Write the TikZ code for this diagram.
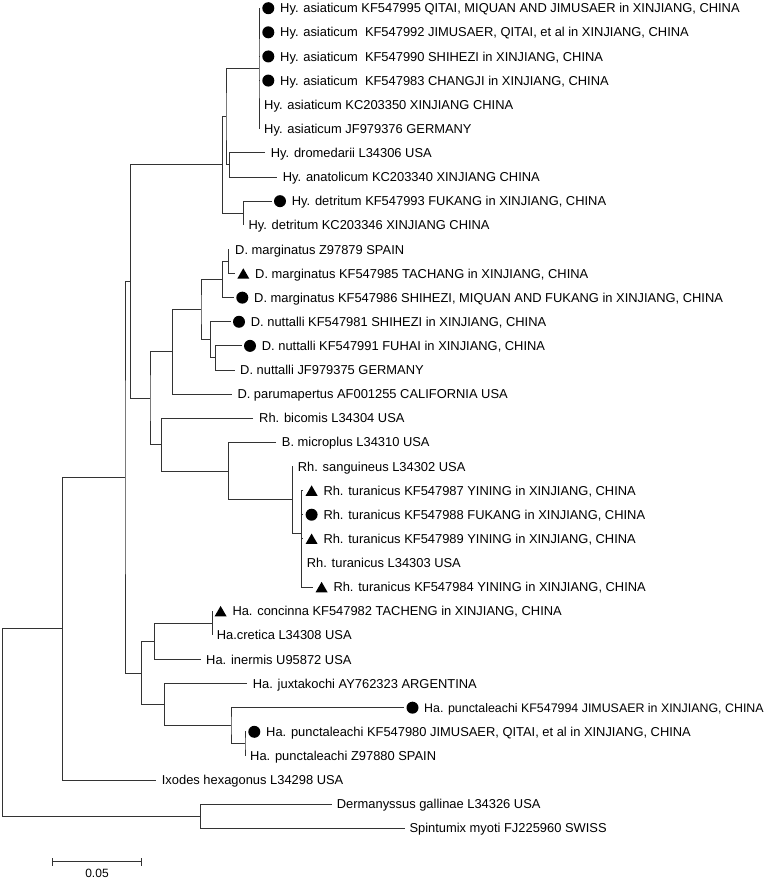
\documentclass[tikz,border=0pt]{standalone}
\usepackage{fontspec}
\setmainfont{Liberation Sans}
\usetikzlibrary{shapes.geometric}
\tikzset{
  br/.style={draw=black!80, line width=1pt},
  lbl/.style={anchor=west, inner sep=0pt, text height=9.2pt, text depth=0pt, font=\fontsize{12.9}{15}\selectfont},
  dot/.style={circle, fill=black, inner sep=0pt, minimum size=12pt},
  tri/.style={regular polygon, regular polygon sides=3, fill=black, inner sep=0pt, minimum size=13.9pt},
}
\begin{document}
\begin{tikzpicture}[x=1pt,y=-1pt]
\useasboundingbox (0,0) rectangle (778,879);
% ---------- leaf labels ----------
\node[lbl] (t1)  at (280,8.2)    {Hy. asiaticum KF547995 QITAI, MIQUAN AND JIMUSAER in XINJIANG, CHINA};
\node[lbl] (t2)  at (280,32.32)  {Hy. asiaticum\ \ KF547992 JIMUSAER, QITAI, et al in XINJIANG, CHINA};
\node[lbl] (t3)  at (280,56.44)  {Hy. asiaticum\ \ KF547990 SHIHEZI in XINJIANG, CHINA};
\node[lbl] (t4)  at (280,80.56)  {Hy. asiaticum\ \ KF547983 CHANGJI in XINJIANG, CHINA};
\node[lbl] (t5)  at (264,104.68) {Hy. asiaticum KC203350 XINJIANG CHINA};
\node[lbl] (t6)  at (264,128.8)  {Hy. asiaticum JF979376 GERMANY};
\node[lbl] (t7)  at (270.7,152.92) {Hy. dromedarii L34306 USA};
\node[lbl] (t8)  at (282.7,177.04) {Hy. anatolicum KC203340 XINJIANG CHINA};
\node[lbl] (t9)  at (291.7,201.16) {Hy. detritum KF547993 FUKANG in XINJIANG, CHINA};
\node[lbl] (t10) at (248.3,225.28) {Hy. detritum KC203346 XINJIANG CHINA};
\node[lbl] (t11) at (235,249.4)  {D. marginatus Z97879 SPAIN};
\node[lbl] (t12) at (255,273.52) {D. marginatus KF547985 TACHANG in XINJIANG, CHINA};
\node[lbl] (t13) at (254,297.64) {D. marginatus KF547986 SHIHEZI, MIQUAN AND FUKANG in XINJIANG, CHINA};
\node[lbl] (t14) at (250.7,321.76) {D. nuttalli KF547981 SHIHEZI in XINJIANG, CHINA};
\node[lbl] (t15) at (261.7,345.88) {D. nuttalli KF547991 FUHAI in XINJIANG, CHINA};
\node[lbl] (t16) at (240,370.0) {D. nuttalli JF979375 GERMANY};
\node[lbl] (t17) at (237.3,394.12) {D. parumapertus AF001255 CALIFORNIA USA};
\node[lbl] (t18) at (259,418.24) {Rh. bicomis L34304 USA};
\node[lbl] (t19) at (281.7,442.36) {B. microplus L34310 USA};
\node[lbl] (t20) at (297.7,466.48) {Rh. sanguineus L34302 USA};
\node[lbl] (t21) at (323.3,490.6) {Rh. turanicus KF547987 YINING in XINJIANG, CHINA};
\node[lbl] (t22) at (323.3,514.72) {Rh. turanicus KF547988 FUKANG in XINJIANG, CHINA};
\node[lbl] (t23) at (323.3,538.84) {Rh. turanicus KF547989 YINING in XINJIANG, CHINA};
\node[lbl] (t24) at (306.7,562.96) {Rh. turanicus L34303 USA};
\node[lbl] (t25) at (333.3,587.08) {Rh. turanicus KF547984 YINING in XINJIANG, CHINA};
\node[lbl] (t26) at (232.3,611.2) {Ha. concinna KF547982 TACHENG in XINJIANG, CHINA};
\node[lbl] (t27) at (216.7,635.32) {Ha.cretica L34308 USA};
\node[lbl] (t28) at (206,659.44) {Ha. inermis U95872 USA};
\node[lbl] (t29) at (252.7,683.56) {Ha. juxtakochi AY762323 ARGENTINA};
\node[lbl, font=\fontsize{12.4}{15}\selectfont] (t30) at (424,707.68) {Ha. punctaleachi KF547994 JIMUSAER in XINJIANG, CHINA};
\node[lbl] (t31) at (266,731.8) {Ha. punctaleachi KF547980 JIMUSAER, QITAI, et al in XINJIANG, CHINA};
\node[lbl] (t32) at (250,755.92) {Ha. punctaleachi Z97880 SPAIN};
\node[lbl] (t33) at (161.7,780.04) {Ixodes hexagonus L34298 USA};
\node[lbl] (t34) at (336.7,804.16) {Dermanyssus gallinae L34326 USA};
\node[lbl] (t35) at (409.3,828.28) {Spintumix myoti FJ225960 SWISS};
% ---------- markers ----------
\node[dot] (m1)  at (268.3,8.2) {};
\node[dot] (m2)  at (268.3,32.32) {};
\node[dot] (m3)  at (268.3,56.44) {};
\node[dot] (m4)  at (268.3,80.56) {};
\node[dot] (m9)  at (280,201.16) {};
\node[tri] (m12) at (243.3,275.2) {};
\node[dot] (m13) at (242.3,297.64) {};
\node[dot] (m14) at (239,321.76) {};
\node[dot] (m15) at (250,345.88) {};
\node[tri] (m21) at (311.6,492.3) {};
\node[dot] (m22) at (311.6,514.72) {};
\node[tri] (m23) at (311.6,540.5) {};
\node[tri] (m25) at (321.6,588.8) {};
\node[tri] (m26) at (220.6,612.9) {};
\node[dot] (m30) at (412.5,707.68) {};
\node[dot] (m31) at (254.3,731.8) {};
% ---------- branch tips ----------
\coordinate (e1)  at (260,8.2);
\coordinate (e2)  at (260,32.32);
\coordinate (e3)  at (260,56.44);
\coordinate (e4)  at (260,80.56);
\coordinate (e5)  at (259,104.68);
\coordinate (e6)  at (259,128.8);
\coordinate (e7)  at (265.2,152.92);
\coordinate (e8)  at (277.2,177.04);
\coordinate (e9)  at (271.7,201.16);
\coordinate (e10) at (243.3,225.28);
\coordinate (e11) at (228.3,249.4);
\coordinate (e12) at (235,273.52);
\coordinate (e13) at (234,297.64);
\coordinate (e14) at (230.7,321.76);
\coordinate (e15) at (241.7,345.88);
\coordinate (e16) at (234.5,370.0);
\coordinate (e17) at (231.8,394.12);
\coordinate (e18) at (253,418.24);
\coordinate (e19) at (276.2,442.36);
\coordinate (e20) at (292.7,466.48);
\coordinate (e21) at (303.3,490.6);
\coordinate (e22) at (303.3,514.72);
\coordinate (e23) at (303.3,538.84);
\coordinate (e24) at (301.7,562.96);
\coordinate (e25) at (313.3,587.08);
\coordinate (e26) at (212.3,611.2);
\coordinate (e27) at (212.3,635.32);
\coordinate (e28) at (200.5,659.44);
\coordinate (e29) at (247,683.56);
\coordinate (e30) at (404.2,707.68);
\coordinate (e31) at (246,731.8);
\coordinate (e32) at (245,755.92);
\coordinate (e33) at (156,780.04);
\coordinate (e34) at (331.5,804.16);
\coordinate (e35) at (404.5,828.28);
% ---------- internal nodes ----------
\coordinate (nAs)  at (259,68.5);
\coordinate (nDA)  at (229.3,164.98);
\coordinate (nA)   at (226,116.74);
\coordinate (nDe)  at (243.3,213.22);
\coordinate (nB)   at (222.7,164.98);
\coordinate (nDm1) at (228.3,261.46);
\coordinate (nDm)  at (222.3,279.55);
\coordinate (nDn1) at (215.7,357.94);
\coordinate (nDn)  at (210.7,339.85);
\coordinate (nD)   at (201,309.7);
\coordinate (nDp)  at (172.7,351.91);
\coordinate (nRt)  at (301.7,533.3);
\coordinate (nRs)  at (292.7,499.9);
\coordinate (nBm)  at (228.3,471.1);
\coordinate (nRb)  at (161.7,444.7);
\coordinate (nDR)  at (150,398.3);
\coordinate (nHD)  at (130.7,281.64);
\coordinate (nHc)  at (212.3,623.26);
\coordinate (nHi)  at (154.3,641.35);
\coordinate (nPu1) at (245,743.86);
\coordinate (nPu)  at (231,725.77);
\coordinate (nHj)  at (164.3,704.67);
\coordinate (nHa)  at (141.7,673.01);
\coordinate (nIx)  at (125,477.3);
\coordinate (nOut) at (62.7,628.7);
\coordinate (nMi)  at (200.7,816.2);
\coordinate (nRoot) at (2.3,722.45);
% ---------- branches ----------
\draw[br] (e1) -| (nAs) |- (e6);
\draw[br] (nAs |- e2) -- (e2);
\draw[br] (nAs |- e3) -- (e3);
\draw[br] (nAs |- e4) -- (e4);
\draw[br] (e7) -| (nDA) |- (e8);
\draw[br] (nAs) -| (nA) |- (nDA);
\draw[br] (e9) -| (nDe) |- (e10);
\draw[br] (nA) -| (nB) |- (nDe);
\draw[br] (e11) -| (nDm1) |- (e12);
\draw[br] (nDm1) -| (nDm) |- (e13);
\draw[br] (e15) -| (nDn1) |- (e16);
\draw[br] (e14) -| (nDn) |- (nDn1);
\draw[br] (nDm) -| (nD) |- (nDn);
\draw[br] (nD) -| (nDp) |- (e17);
\draw[br] (e21) -| (nRt) |- (e25);
\draw[br] (nRt |- e22) -- (e22);
\draw[br] (nRt |- e23) -- (e23);
\draw[br] (e20) -| (nRs) |- (nRt);
\draw[br] (e19) -| (nBm) |- (nRs);
\draw[br] (e18) -| (nRb) |- (nBm);
\draw[br] (nDp) -| (nDR) |- (nRb);
\draw[br] (nB) -| (nHD) |- (nDR);
\draw[br] (e26) -| (nHc) |- (e27);
\draw[br] (nHc) -| (nHi) |- (e28);
\draw[br] (e31) -| (nPu1) |- (e32);
\draw[br] (e30) -| (nPu) |- (nPu1);
\draw[br] (e29) -| (nHj) |- (nPu);
\draw[br] (nHi) -| (nHa) |- (nHj);
\draw[br] (nHD) -| (nIx) |- (nHa);
\draw[br] (nIx) -| (nOut) |- (e33);
\draw[br] (e34) -| (nMi) |- (e35);
\draw[br] (nOut) -| (nRoot) |- (nMi);
% ---------- scale bar ----------
\coordinate (sbL) at (52.3,861.7);
\coordinate (sbR) at (141.7,861.7);
\draw[br] (sbL) -- (sbR);
\draw[br] ([yshift=-4.2pt]sbL) -- ([yshift=4.2pt]sbL);
\draw[br] ([yshift=-4.2pt]sbR) -- ([yshift=4.2pt]sbR);
\node[inner sep=0pt, font=\fontsize{12}{14}\selectfont] (sbT) at (97,873) {0.05};
\end{tikzpicture}
\end{document}
